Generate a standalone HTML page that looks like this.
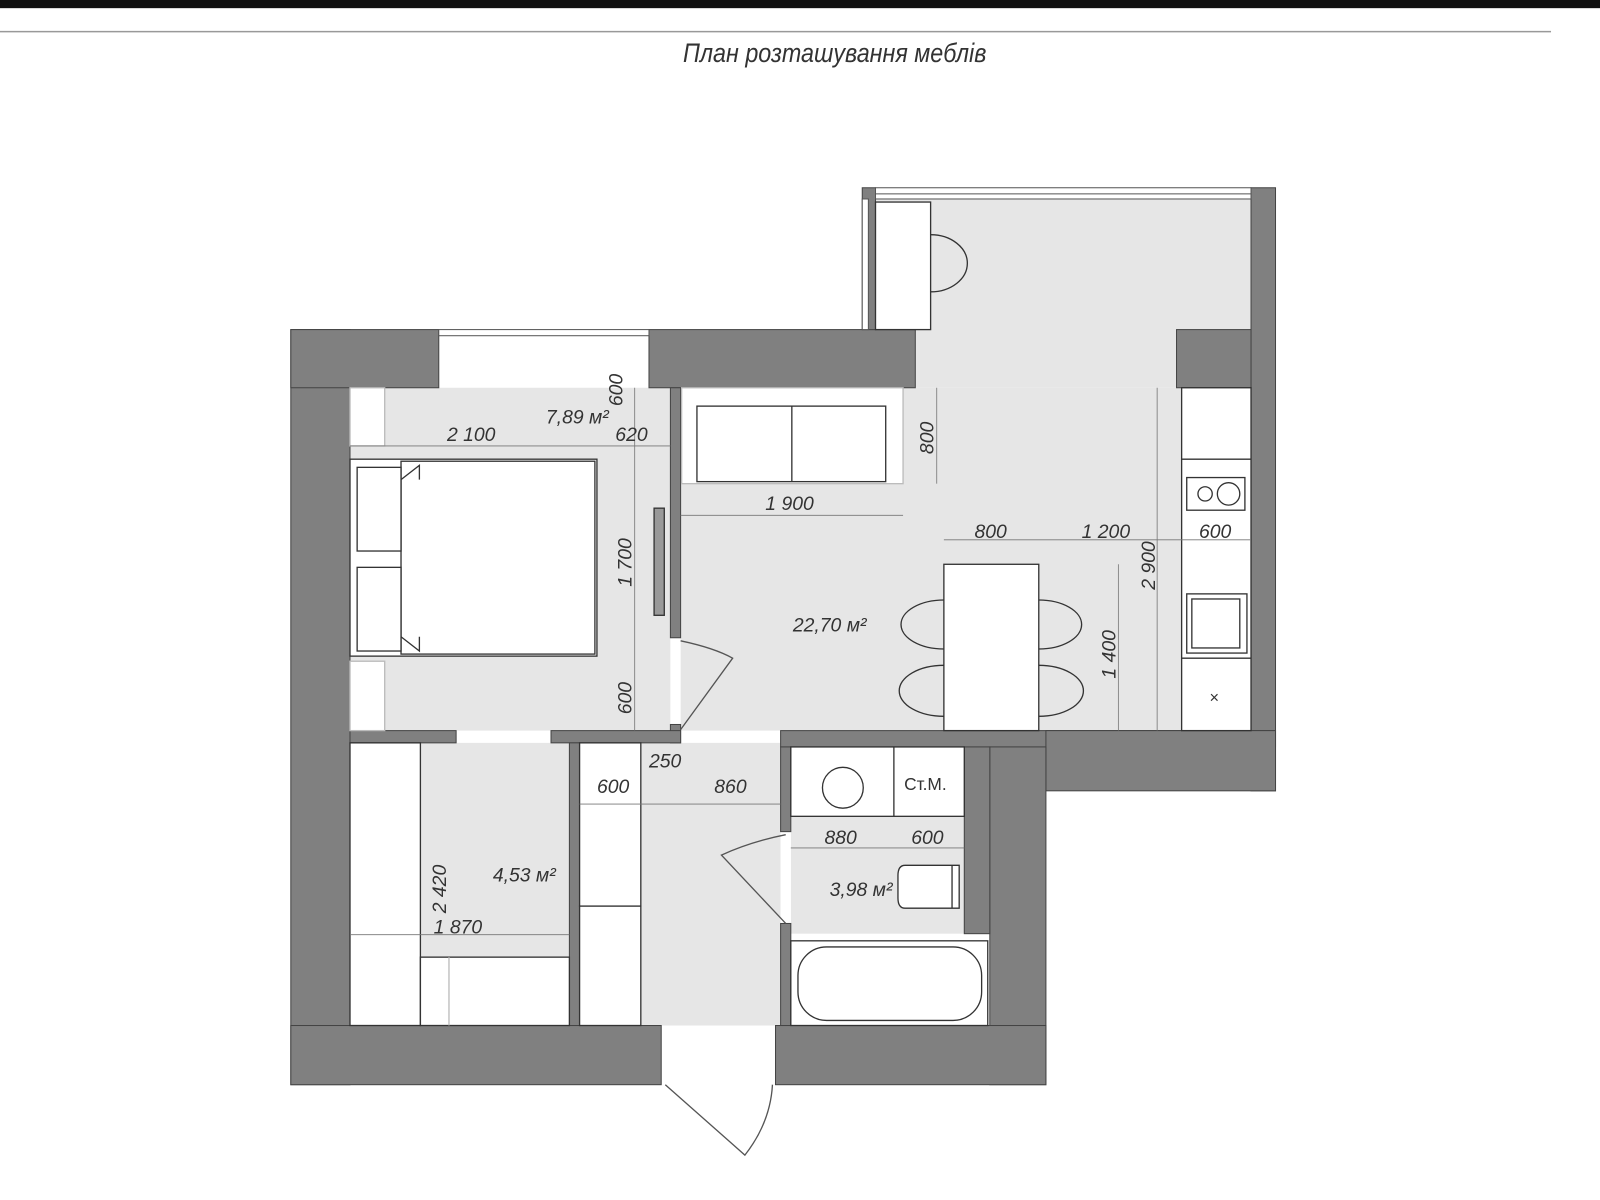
<!DOCTYPE html>
<html><head><meta charset="utf-8"><style>
html,body{margin:0;padding:0;background:#fff;width:1600px;height:1200px;overflow:hidden}
svg{display:block}
text{font-family:"Liberation Sans",sans-serif;font-style:italic;fill:#333}
</style></head><body>
<svg width="1600" height="1200" viewBox="0 0 1568 1176" xmlns="http://www.w3.org/2000/svg">
<rect x="0" y="0" width="1568" height="8" fill="#111"/>
<line x1="0" y1="31" x2="1520" y2="31" stroke="#999" stroke-width="1.5"/>
<text x="818" y="61" font-size="26" text-anchor="middle" transform="translate(818 0) scale(0.88 1) translate(-818 0)">План розташування меблів</text>

<!-- floors -->
<g fill="#e6e6e6">
<rect x="343" y="380" width="314" height="336"/>
<rect x="667" y="380" width="491" height="336"/>
<rect x="858" y="195" width="368" height="185"/>
<rect x="568" y="728" width="197" height="277"/>
<rect x="412" y="728" width="146" height="210"/>
<rect x="775" y="800" width="170" height="115"/>
<rect x="657" y="625" width="10" height="90" fill="#fff"/>
<rect x="765" y="815" width="10" height="90" fill="#fff"/>
</g>

<!-- walls -->
<g fill="#808080" stroke="#444" stroke-width="1">
<rect x="285" y="323" width="58" height="740"/>
<rect x="285" y="323" width="145" height="57"/>
<rect x="636" y="323" width="261" height="57"/>
<rect x="845" y="184" width="13" height="139"/>
<rect x="1226" y="184" width="24" height="591"/>
<rect x="1153" y="323" width="73" height="57"/>
<rect x="765" y="716" width="485" height="16"/>
<rect x="1025" y="716" width="225" height="59"/>
<rect x="970" y="732" width="55" height="331"/>
<rect x="945" y="732" width="25" height="183"/>
<rect x="285" y="1005" width="363" height="58"/>
<rect x="760" y="1005" width="265" height="58"/>
<rect x="657" y="380" width="10" height="245"/>
<rect x="657" y="710" width="10" height="18"/>
<rect x="343" y="716" width="104" height="12"/>
<rect x="540" y="716" width="127" height="12"/>
<rect x="558" y="728" width="10" height="277"/>
<rect x="765" y="732" width="10" height="83"/>
<rect x="765" y="905" width="10" height="100"/>
</g>

<!-- windows -->
<g fill="#fff" stroke="#555" stroke-width="1">
<rect x="430" y="323" width="206" height="6"/>
<rect x="858" y="184" width="368" height="11"/>
<line x1="858" y1="190" x2="1226" y2="190"/>
<rect x="845" y="195" width="6" height="128"/>
</g>

<!-- furniture -->
<g fill="#fff" stroke="#333" stroke-width="1.3">
<rect x="343" y="380" width="34" height="57" stroke="#bbb"/>
<rect x="343" y="648" width="34" height="68" stroke="#bbb"/>
<rect x="343" y="450" width="242" height="193"/>
<rect x="393" y="452" width="190" height="189"/>
<rect x="350" y="458" width="43" height="82"/>
<rect x="350" y="556" width="43" height="82"/>
<polyline points="393,470 411,456 411,470" fill="none"/>
<polyline points="393,624 411,638 411,624" fill="none"/>
<rect x="668" y="380" width="217" height="94" stroke="#bbb"/>
<rect x="683" y="398" width="185" height="74"/>
<line x1="776" y1="398" x2="776" y2="472"/>
<rect x="858" y="198" width="54" height="125"/>
<path d="M912 230 A36 28 0 0 1 912 286" fill="none"/>
<rect x="925" y="553" width="93" height="163"/>
<path d="M925 588 A42 24 0 0 0 925 636" fill="none"/>
<path d="M925 652 A42 24 0 0 0 925 702" fill="none"/>
<path d="M1018 588 A42 24 0 0 1 1018 636" fill="none"/>
<path d="M1018 652 A42 24 0 0 1 1018 702" fill="none"/>
<rect x="1158" y="380" width="68" height="336"/>
<line x1="1158" y1="450" x2="1226" y2="450"/>
<line x1="1158" y1="645" x2="1226" y2="645"/>
<rect x="1163" y="468" width="57" height="32"/>
<circle cx="1181" cy="484" r="7"/><circle cx="1204" cy="484" r="11"/>
<rect x="1163" y="582" width="59" height="58"/>
<rect x="1168" y="587" width="47" height="48"/>
<rect x="343" y="728" width="69" height="277"/>
<rect x="412" y="938" width="146" height="67"/>
<line x1="440" y1="938" x2="440" y2="1005" stroke="#bbb"/>
<rect x="568" y="728" width="60" height="160"/>
<rect x="568" y="888" width="60" height="117"/>
<rect x="775" y="732" width="170" height="68"/>
<line x1="876" y1="732" x2="876" y2="800"/>
<circle cx="826" cy="772" r="20"/>
<path d="M887 848 H940 V890 H887 Q880 890 880 880 V858 Q880 848 887 848 Z"/>
<line x1="933" y1="848" x2="933" y2="890"/>
<rect x="775" y="922" width="193" height="83"/>
<rect x="782" y="928" width="180" height="72" rx="28"/>
<path d="M667 628 Q700 635 718 645 L667 715" fill="none" stroke="#555"/>
<path d="M770 818 Q735 825 707 838 L770 905" fill="none" stroke="#555"/>
<path d="M652 1063 L730 1132 Q755 1100 757 1063" fill="none" stroke="#555"/>
<rect x="641" y="498" width="10" height="105" fill="#999"/>
</g>
<text x="1190" y="689" font-size="16" text-anchor="middle" style="font-style:normal">×</text>

<!-- dimension lines -->
<g stroke="#777" stroke-width="0.8" fill="none">
<line x1="343" y1="437" x2="657" y2="437"/>
<line x1="622" y1="380" x2="622" y2="716"/>
<line x1="667" y1="505" x2="885" y2="505"/>
<line x1="918" y1="380" x2="918" y2="474"/>
<line x1="925" y1="529" x2="1226" y2="529"/>
<line x1="1134" y1="380" x2="1134" y2="716"/>
<line x1="1096" y1="553" x2="1096" y2="716"/>
<line x1="568" y1="788" x2="765" y2="788"/>
<line x1="775" y1="831" x2="945" y2="831"/>
<line x1="343" y1="916" x2="558" y2="916"/>
</g>

<g font-size="19">
<text x="438" y="432">2  100</text>
<text x="603" y="432">620</text>
<text x="535" y="415">7,89 м²</text>
<text transform="translate(610 398) rotate(-90)">600</text>
<text transform="translate(619 575) rotate(-90)">1  700</text>
<text transform="translate(619 700) rotate(-90)">600</text>
<text x="750" y="500">1  900</text>
<text transform="translate(915 445) rotate(-90)">800</text>
<text x="955" y="527">800</text>
<text x="1060" y="527">1  200</text>
<text x="1175" y="527">600</text>
<text transform="translate(1132 578) rotate(-90)">2  900</text>
<text transform="translate(1093 665) rotate(-90)">1  400</text>
<text x="777" y="619">22,70 м²</text>
<text x="636" y="752">250</text>
<text x="585" y="777">600</text>
<text x="700" y="777">860</text>
<text x="808" y="827">880</text>
<text x="893" y="827">600</text>
<text x="813" y="878">3,98 м²</text>
<text transform="translate(437 895) rotate(-90)">2  420</text>
<text x="483" y="864">4,53 м²</text>
<text x="425" y="915">1  870</text>
<text x="886" y="774" style="font-style:normal" font-size="17">Ст.М.</text>
</g>
</svg>
</body></html>
